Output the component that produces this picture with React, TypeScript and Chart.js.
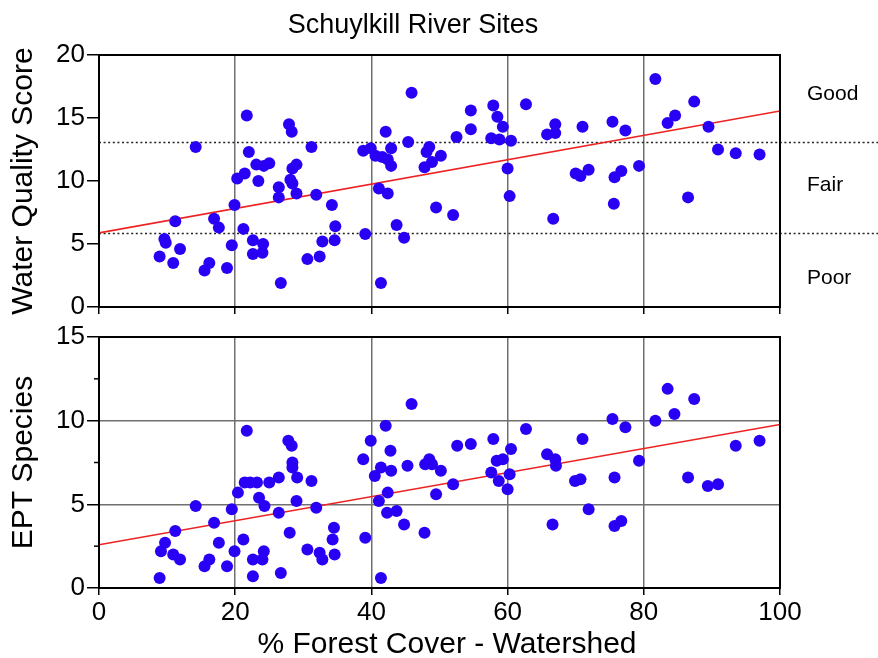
import React, { useEffect, useRef } from "react";
import { Chart, registerables } from "chart.js";

Chart.register(...registerables);

// ---------- data ----------
const chartTitle = "Schuylkill River Sites";
const xTitle = "% Forest Cover - Watershed";
const wqTitle = "Water Quality Score";
const eptTitle = "EPT Species";

const xTicks = [0, 20, 40, 60, 80, 100];
const wqTicks = [0, 5, 10, 15, 20];
const eptTicks = [0, 5, 10, 15];
const eptMinorTicks = [2.5, 7.5, 12.5];

const wqX = [
  21.7, 14.2, 27.9, 28.3, 31.2, 22.0, 23.1, 24.2, 25.0, 28.4,
  29.0, 28.1, 28.4, 21.4, 20.3, 23.4, 26.4, 26.4, 29.0, 31.9,
  19.9, 16.9, 17.6, 11.2, 21.2, 9.6, 9.8, 11.9, 8.9, 10.9,
  19.5, 22.6, 24.1, 22.6, 24.0, 16.2, 15.5, 18.8, 26.7, 30.6,
  32.4, 32.8,
  34.2, 34.7, 34.6, 39.1, 41.4, 38.8, 39.9, 40.6, 41.6, 42.4,
  42.9, 42.9, 42.1, 45.9, 45.4, 41.1, 42.4, 43.7, 44.8, 47.8,
  48.1, 48.5, 48.9, 50.2, 49.5, 52.0, 52.5, 54.6, 54.6, 57.9,
  58.5, 59.3, 57.6, 58.8, 60.5, 60.0, 60.3, 62.7, 66.7, 65.8,
  67.0, 67.0, 71.0, 75.4, 77.3, 81.7, 83.5, 84.6, 87.4, 89.5,
  90.9, 93.5, 97.0, 86.5, 70.0, 70.7, 71.9, 75.7, 76.7, 79.3,
  75.6,
];
const wqY = [
  15.2, 12.7, 14.5, 13.9, 12.7, 12.3, 11.3, 11.2, 11.4, 11.0,
  11.3, 10.1, 9.8, 10.6, 10.2, 10.0, 9.5, 8.7, 9.0, 8.9,
  8.1, 7.0, 6.3, 6.8, 6.2, 5.4, 5.1, 4.6, 4.0, 3.5,
  4.9, 5.3, 5.0, 4.2, 4.3, 3.5, 2.9, 3.1, 1.9, 3.8,
  4.0, 5.2,
  8.1, 6.4, 5.3, 5.8, 1.9, 12.4, 12.6, 12.0, 11.9, 11.7,
  11.2, 12.6, 13.9, 17.0, 13.1, 9.4, 9.0, 6.5, 5.5, 11.1,
  12.3, 12.7, 11.5, 12.0, 7.9, 7.3, 13.5, 15.6, 14.1, 16.0,
  15.1, 14.3, 13.4, 13.3, 13.2, 11.0, 8.8, 16.1, 7.0, 13.7,
  14.5, 13.8, 14.3, 14.7, 14.0, 18.1, 14.6, 15.2, 16.3, 14.3,
  12.5, 12.2, 12.1, 8.7, 10.6, 10.4, 10.9, 10.3, 10.8, 11.2,
  8.2,
];

const eptX = [
  21.7, 27.8, 28.3, 28.4, 28.4, 29.1, 31.2, 26.4, 21.4, 22.2,
  23.2, 25.0, 20.4, 23.5, 24.3, 19.5, 14.2, 29.0, 31.9, 26.4,
  16.9, 11.2, 28.0, 17.6, 21.2, 9.7, 9.1, 10.9, 11.9, 19.9,
  22.6, 24.2, 24.0, 16.2, 15.5, 18.8, 8.9, 22.6, 26.7, 30.6,
  32.4, 32.8,
  34.5, 34.3, 34.6, 39.1, 41.4, 45.9, 42.1, 39.9, 38.8, 42.8,
  41.4, 40.5, 42.9, 45.3, 42.4, 41.1, 42.3, 43.7, 44.8, 47.8,
  47.9, 48.5, 48.9, 50.2, 49.5, 52.0, 52.6, 54.6, 57.9, 62.7,
  60.5, 58.4, 59.3, 57.6, 60.3, 58.7, 60.0, 65.8, 66.6,
  67.0, 67.1, 71.0, 75.4, 77.3, 81.7, 83.5, 84.5, 87.4, 93.5,
  97.0, 79.3, 69.9, 70.7, 75.7, 86.5, 89.4, 90.9, 71.9, 75.7,
  76.7,
];
const eptY = [
  9.4, 8.8, 8.5, 7.5, 7.2, 6.6, 6.4, 6.6, 6.3, 6.3,
  6.3, 6.3, 5.7, 5.4, 4.9, 4.7, 4.9, 5.2, 4.8, 4.5,
  3.9, 3.4, 3.3, 2.7, 2.9, 2.7, 2.2, 2.0, 1.7, 2.2,
  1.7, 2.2, 1.7, 1.7, 1.3, 1.3, 0.6, 0.7, 0.9, 2.3,
  2.1, 1.7,
  3.6, 2.9, 2.0, 3.0, 0.6, 11.0, 9.7, 8.8, 7.7, 8.2,
  7.2, 6.7, 7.0, 7.3, 5.7, 5.2, 4.5, 4.6, 3.8, 3.3,
  7.4, 7.7, 7.4, 7.0, 5.6, 6.2, 8.5, 8.6, 8.9, 9.5,
  8.3, 7.6, 7.7, 6.9, 6.8, 6.4, 5.9, 8.0, 3.8,
  7.7, 7.3, 8.9, 10.1, 9.6, 10.0, 11.9, 10.4, 11.3, 8.5,
  8.8, 7.6, 6.4, 6.5, 6.6, 6.6, 6.1, 6.2, 4.7, 3.7,
  4.0,
];

const fitX = [0, 100];
const wqFitY = [5.88, 15.56];
const eptFitY = [2.58, 9.77];

const wqThresholds = [13.1, 5.85];
const zoneLabels = ["Good", "Fair", "Poor"];
const zoneLabelY = [16.9, 9.7, 2.3];

// ---------- styles ----------
const FONT = "'Liberation Sans', Arial, Helvetica, sans-serif";
const DOT = "#2a00f5";
const RED = "#ee2222";
const GRID = "#707070";

function pts(xs: number[], ys: number[]) {
  return xs.map((x, i) => ({ x, y: ys[i] }));
}

function datasets(xs: number[], ys: number[], fitY: number[]) {
  return [
    {
      type: "scatter" as const,
      data: pts(xs, ys),
      backgroundColor: DOT,
      borderWidth: 0,
      pointRadius: 6,
      pointHoverRadius: 6,
      order: 1,
    },
    {
      type: "line" as const,
      data: pts(fitX, fitY),
      borderColor: RED,
      borderWidth: 1.6,
      pointRadius: 0,
      showLine: true,
      fill: false,
      order: 2,
    },
  ];
}

function drawBox(chart: any) {
  const { ctx, chartArea: a } = chart;
  ctx.save();
  ctx.strokeStyle = "#000";
  ctx.lineWidth = 2;
  ctx.strokeRect(a.left, a.top, a.right - a.left, a.bottom - a.top);
  ctx.restore();
}

function drawYTitle(chart: any, text: string) {
  const { ctx, chartArea: a } = chart;
  ctx.save();
  ctx.translate(24, (a.top + a.bottom) / 2);
  ctx.rotate(-Math.PI / 2);
  ctx.font = `30px ${FONT}`;
  ctx.fillStyle = "#000";
  ctx.textAlign = "center";
  ctx.textBaseline = "middle";
  ctx.fillText(text, 0, 0);
  ctx.restore();
}

const topPlugin = {
  id: "topDecor",
  beforeDatasetsDraw(chart: any) {
    const { ctx, chartArea: a, scales } = chart;
    ctx.save();
    ctx.strokeStyle = "#222";
    ctx.lineWidth = 1.5;
    ctx.setLineDash([2, 2.6]);
    for (const v of wqThresholds) {
      const y = Math.round(scales.y.getPixelForValue(v)) + 0.5;
      ctx.beginPath();
      ctx.moveTo(a.left, y);
      ctx.lineTo(chart.width, y);
      ctx.stroke();
    }
    ctx.restore();
  },
  afterDraw(chart: any) {
    const { ctx, chartArea: a, scales } = chart;
    drawBox(chart);
    drawYTitle(chart, wqTitle);
    ctx.save();
    ctx.fillStyle = "#000";
    ctx.font = `27px ${FONT}`;
    ctx.textAlign = "center";
    ctx.textBaseline = "alphabetic";
    ctx.fillText(chartTitle, 413, 33);
    ctx.font = `21px ${FONT}`;
    ctx.textAlign = "left";
    ctx.textBaseline = "middle";
    zoneLabels.forEach((t, i) => {
      ctx.fillText(t, a.right + 27, scales.y.getPixelForValue(zoneLabelY[i]));
    });
    ctx.restore();
  },
};

const botPlugin = {
  id: "botDecor",
  afterDraw(chart: any) {
    const { ctx, chartArea: a, scales } = chart;
    drawBox(chart);
    drawYTitle(chart, eptTitle);
    ctx.save();
    ctx.strokeStyle = "#000";
    ctx.lineWidth = 1.5;
    for (const v of eptMinorTicks) {
      const y = scales.y.getPixelForValue(v);
      ctx.beginPath();
      ctx.moveTo(a.left - 5, y);
      ctx.lineTo(a.left, y);
      ctx.stroke();
    }
    ctx.fillStyle = "#000";
    ctx.font = `30px ${FONT}`;
    ctx.textAlign = "center";
    ctx.textBaseline = "alphabetic";
    ctx.fillText(xTitle, 447, 331);
    ctx.restore();
  },
};

function xScale(showLabels: boolean, height: number) {
  return {
    type: "linear" as const,
    min: 0,
    max: 100,
    afterBuildTicks: (axis: any) => {
      axis.ticks = xTicks.map((v) => ({ value: v }));
    },
    afterFit: (s: any) => {
      s.height = height;
    },
    border: { display: false },
    grid: {
      color: GRID,
      lineWidth: 1.5,
      tickColor: "#000",
      tickLength: 7,
      drawOnChartArea: true,
      drawTicks: true,
    },
    ticks: {
      display: showLabels,
      color: "#000",
      font: { family: FONT, size: 26, lineHeight: 1 },
      padding: 5,
      maxRotation: 0,
      autoSkip: false,
    },
  };
}

function yScale(max: number, ticks: number[], gridOnArea: boolean) {
  return {
    type: "linear" as const,
    min: 0,
    max,
    afterBuildTicks: (axis: any) => {
      axis.ticks = ticks.map((v) => ({ value: v }));
    },
    afterFit: (s: any) => {
      s.width = 99;
    },
    border: { display: false },
    grid: {
      color: GRID,
      lineWidth: 1.5,
      tickColor: "#000",
      tickLength: 12,
      drawOnChartArea: gridOnArea,
      drawTicks: true,
    },
    ticks: {
      color: "#000",
      font: { family: FONT, size: 26, lineHeight: 1 },
      padding: 2,
      autoSkip: false,
    },
  };
}

export default function App() {
  const topRef = useRef<HTMLCanvasElement>(null);
  const botRef = useRef<HTMLCanvasElement>(null);

  useEffect(() => {
    const common = {
      responsive: false,
      maintainAspectRatio: false,
      animation: false as const,
      devicePixelRatio: 1,
      events: [] as any[],
      plugins: {
        legend: { display: false },
        title: { display: false },
        tooltip: { enabled: false },
      },
    };
    const c1 = new Chart(topRef.current as HTMLCanvasElement, {
      type: "scatter",
      data: { datasets: datasets(wqX, wqY, wqFitY) as any },
      options: {
        ...common,
        layout: { padding: { top: 55, right: 98, left: 0, bottom: 0 } },
        scales: {
          x: xScale(false, 15),
          y: yScale(20, wqTicks, false),
        },
      } as any,
      plugins: [topPlugin],
    });
    const c2 = new Chart(botRef.current as HTMLCanvasElement, {
      type: "scatter",
      data: { datasets: datasets(eptX, eptY, eptFitY) as any },
      options: {
        ...common,
        layout: { padding: { top: 15, right: 98, left: 0, bottom: 0 } },
        scales: {
          x: xScale(true, 70),
          y: yScale(15, eptTicks, true),
        },
      } as any,
      plugins: [botPlugin],
    });
    return () => {
      c1.destroy();
      c2.destroy();
    };
  }, []);

  return (
    <div
      style={{
        position: "fixed",
        left: 0,
        top: 0,
        width: 878,
        height: 658,
        background: "#fff",
      }}
    >
      <canvas
        ref={topRef}
        width={878}
        height={322}
        style={{ position: "absolute", left: 0, top: 0, width: 878, height: 322 }}
      />
      <canvas
        ref={botRef}
        width={878}
        height={336}
        style={{ position: "absolute", left: 0, top: 322, width: 878, height: 336 }}
      />
    </div>
  );
}
